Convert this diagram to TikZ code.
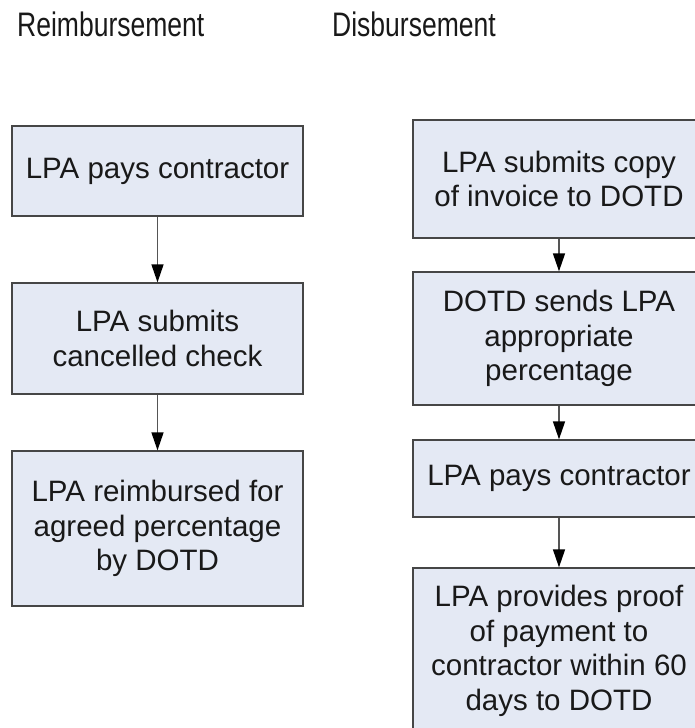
\documentclass[tikz,border=0pt]{standalone}
\usepackage{fontspec}
\setmainfont{Liberation Sans}
\usetikzlibrary{arrows.meta}

\definecolor{azulclaro}{RGB}{228,233,244}
\definecolor{bordegris}{RGB}{70,70,70}
\definecolor{flechagris}{RGB}{85,85,85}
\definecolor{textogris}{RGB}{25,25,25}

\begin{document}
\begin{tikzpicture}[x=1pt, y=-1pt,
    paso/.style={draw=bordegris, fill=azulclaro, line width=1.3pt, align=center,
        text=textogris, font=\fontsize{29.5}{34.5}\selectfont, inner sep=0pt},
    titulo/.style={anchor=base west, inner sep=0pt, text=textogris,
        font=\fontsize{34}{40}\selectfont},
    flecha/.style={-{Triangle[width=12pt,length=18pt,color=black]}, draw=flechagris, line width=1.4pt}]

    % Marco de la figura
    \useasboundingbox (0,0) rectangle (694,728);
    \fill[white] (0,0) rectangle (694,728);

    % Titulos
    \node[titulo] (treemb) at (17,36) {\scalebox{0.78}[1]{Reimbursement}};
    \node[titulo] (tdesem) at (332,36) {\scalebox{0.78}[1]{Disbursement}};

    % Columna izquierda: reembolso
    \node[paso, minimum width=291pt, minimum height=90pt] (r1) at (157.5,171) {LPA pays contractor};
    \node[paso, minimum width=291pt, minimum height=111pt] (r2) at (157.5,338.5) {LPA submits\\cancelled check};
    \node[paso, minimum width=291pt, minimum height=155pt] (r3) at (157.5,528.5) {LPA reimbursed for\\agreed percentage\\by DOTD};

    % Columna derecha: desembolso
    \node[paso, minimum width=292pt, minimum height=118pt] (d1) at (559,179) {LPA submits copy\\of invoice to DOTD};
    \node[paso, minimum width=292pt, minimum height=133pt] (d2) at (559,338.5) {DOTD sends LPA\\appropriate\\percentage};
    \node[paso, minimum width=292pt, minimum height=77pt] (d3) at (559,478.5) {LPA pays contractor};
    \node[paso, minimum width=292pt, minimum height=166pt] (d4) at (559,651) {LPA provides proof\\of payment to\\contractor within 60\\days to DOTD};

    % Flechas
    \draw[flecha] (r1) -- (r2);
    \draw[flecha] (r2) -- (r3);
    \draw[flecha] (d1) -- (d2);
    \draw[flecha] (d2) -- (d3);
    \draw[flecha] (d3) -- (d4);

\end{tikzpicture}
\end{document}
